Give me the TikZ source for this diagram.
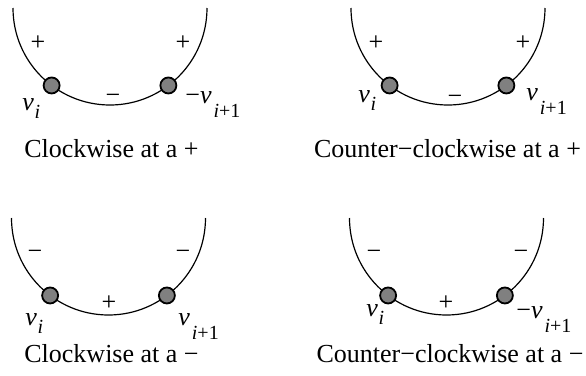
\documentclass[tikz,border=0pt]{standalone}
\usepackage{fontspec}
\setmainfont{Liberation Serif}
\usepackage{tikz}
\usetikzlibrary{calc}
\newcommand{\mainsz}{\fontsize{13}{15}\selectfont}
\newcommand{\subsz}{\fontsize{10}{12}\selectfont}
\tikzset{
  rim/.style={line width=0.6pt},
  vdot/.style={circle, draw=black, line width=0.9pt, fill=gray,
               minimum size=8pt, inner sep=0pt},
  sign/.style={font=\mainsz, inner sep=0pt},
  vlabel/.style={anchor=base west, font=\mainsz, inner sep=0pt},
  capt/.style={anchor=base, font=\mainsz, inner sep=0pt},
}

\begin{document}
\begin{tikzpicture}[x=0.5pt,y=-0.5pt]
  \useasboundingbox (0,0) rectangle (586,376);

  % centres of the four arcs
  \coordinate (c1) at (110,8);
  \coordinate (c2) at (448,8);
  \coordinate (c3) at (108.5,218);
  \coordinate (c4) at (446.5,218);

  % arcs with the two vertices on each
  \foreach \c in {1,2,3,4} {
    \draw[rim] ($(c\c)+(180:97)$) arc[start angle=180, end angle=0, radius=97];
    \node[vdot] (l\c) at ($(c\c)+(127:97)$) {};
    \node[vdot] (r\c) at ($(c\c)+(53:97)$) {};
  }

  % clockwise at a +
  \node[sign] (p1a) at (38,43) {+};
  \node[sign] (p1b) at (183,43) {+};
  \node[sign] (p1c) at (113,99) {−};
  \node[vlabel] (v1a) at (22,110) {\textit{v}\kern0.3pt\raisebox{-4pt}{\subsz\textit{i}}};
  \node[vlabel] (v1b) at (185,103) {−\textit{v}\kern1pt\raisebox{-7pt}{\subsz\textit{i}+1}};
  \node[capt] (t1) at (111.5,157) {Clockwise at a +};

  % counter-clockwise at a +
  \node[sign] (p2a) at (376,43) {+};
  \node[sign] (p2b) at (523,43) {+};
  \node[sign] (p2c) at (455,100) {−};
  \node[vlabel] (v2a) at (358,102) {\textit{v}\kern0.3pt\raisebox{-4pt}{\subsz\textit{i}}};
  \node[vlabel] (v2b) at (526,100) {\textit{v}\kern1pt\raisebox{-7pt}{\subsz\textit{i}+1}};
  \node[capt] (t2) at (447.5,157) {Counter−clockwise at a +};

  % clockwise at a -
  \node[sign] (p3a) at (35,255) {−};
  \node[sign] (p3b) at (183,255) {−};
  \node[sign] (p3c) at (109,303) {+};
  \node[vlabel] (v3a) at (25,325) {\textit{v}\kern0.3pt\raisebox{-4pt}{\subsz\textit{i}}};
  \node[vlabel] (v3b) at (178,325) {\textit{v}\kern1pt\raisebox{-7pt}{\subsz\textit{i}+1}};
  \node[capt] (t3) at (111.5,362) {Clockwise at a −};

  % counter-clockwise at a -
  \node[sign] (p4a) at (374,255) {−};
  \node[sign] (p4b) at (521,255) {−};
  \node[sign] (p4c) at (446,303) {+};
  \node[vlabel] (v4a) at (366,316) {\textit{v}\kern0.3pt\raisebox{-4pt}{\subsz\textit{i}}};
  \node[vlabel] (v4b) at (516,318) {−\textit{v}\kern1pt\raisebox{-7pt}{\subsz\textit{i}+1}};
  \node[capt] (t4) at (450,362) {Counter−clockwise at a −};
\end{tikzpicture}
\end{document}
